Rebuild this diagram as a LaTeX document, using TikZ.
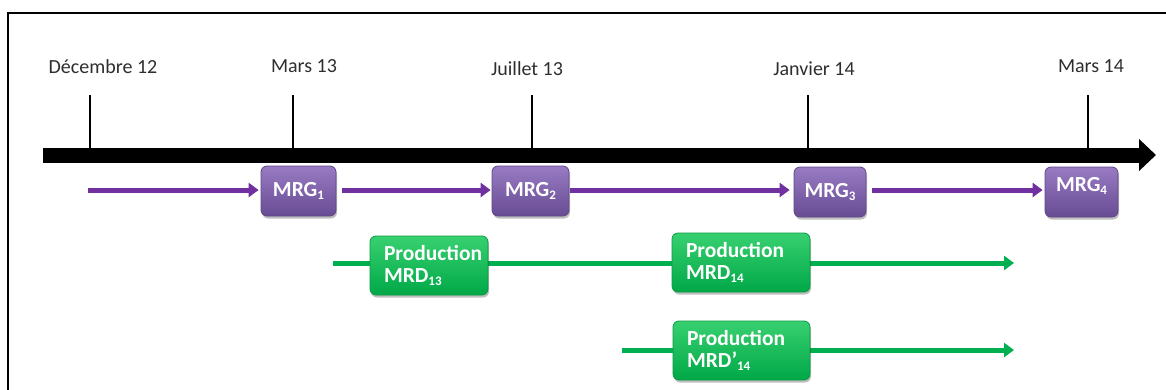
\documentclass[tikz,border=0pt]{standalone}
\usepackage{fontspec}
\setmainfont{Carlito}
\usetikzlibrary{arrows.meta,shadows}
\definecolor{purpleline}{HTML}{7030A0}
\definecolor{greenline}{HTML}{00B050}
\definecolor{labelgray}{HTML}{2E2E2E}
\definecolor{purtop}{HTML}{987BC2}
\definecolor{purbot}{HTML}{684C93}
\definecolor{purdraw}{HTML}{5F4688}
\definecolor{grntop}{HTML}{38D070}
\definecolor{grnbot}{HTML}{00A847}
\definecolor{grndraw}{HTML}{089A42}
\newcommand\lowsub[1]{\raisebox{-3pt}{\fontsize{13}{13}\selectfont #1}}
\begin{document}
\begin{tikzpicture}[x=1pt,y=-1pt,
  datelabel/.style={font=\fontsize{20}{24}\selectfont, text=labelgray, anchor=base, inner sep=0pt},
  tickline/.style={line width=2pt, black},
  axisline/.style={line width=15pt, black, -{Triangle[length=17pt,width=31pt]}},
  purarrow/.style={line width=5pt, purpleline, -{Triangle[length=10pt,width=14pt]}},
  grnarrow/.style={line width=5pt, greenline, -{Triangle[length=10pt,width=14pt]}},
  mrgbox/.style={rounded corners=6pt, top color=purtop, bottom color=purbot, draw=purdraw, line width=0.8pt,
    text=white, font=\bfseries\fontsize{21.5}{23}\selectfont, minimum height=50pt, inner sep=0pt,
    drop shadow={shadow xshift=1pt, shadow yshift=-2.5pt, opacity=0.25, fill=black}},
  mrdbox/.style={rounded corners=6pt, top color=grntop, bottom color=grnbot, draw=grndraw, line width=0.8pt,
    text=white, font=\bfseries\fontsize{21.5}{22.5}\selectfont, minimum height=59pt, inner xsep=14pt, inner ysep=0pt,
    align=left,
    drop shadow={shadow xshift=1pt, shadow yshift=-2.5pt, opacity=0.25, fill=black}},
]
\useasboundingbox (0,0) rectangle (1166,389);
% frame (top and left edges)
\coordinate (fbl) at (8,390);
\coordinate (ftl) at (8,13);
\coordinate (ftr) at (1167,13);
\draw[line width=1.5pt, black] (fbl) -- (ftl) -- (ftr);

% axis
\coordinate (axs) at (43,155);
\coordinate (axe) at (1156,155);
\draw[axisline] (axs) -- (axe);

% ticks
\foreach \n/\x in {1/90,2/293,3/532,4/808,5/1088}{
  \coordinate (tt\n) at (\x,95);
  \coordinate (tb\n) at (\x,150);
  \draw[tickline] (tt\n) -- (tb\n);
}

% date labels
\node[datelabel] (l1) at (103,73) {Décembre 12};
\node[datelabel] (l2) at (304,72) {Mars 13};
\node[datelabel] (l3) at (527,75) {Juillet 13};
\node[datelabel] (l4) at (814,75) {Janvier 14};
\node[datelabel] (l5) at (1091,72) {Mars 14};

% green lines (behind boxes)
\coordinate (gs1) at (333,263);
\coordinate (ge1) at (1014,263);
\coordinate (gs2) at (622,350);
\coordinate (ge2) at (1014,350);
\draw[grnarrow] (gs1) -- (ge1);
\draw[grnarrow] (gs2) -- (ge2);

% MRG boxes
\node[mrgbox, minimum width=75pt] (m1) at (298.5,191) {MRG\lowsub{1}};
\node[mrgbox, minimum width=77pt] (m2) at (530.5,191) {MRG\lowsub{2}};
\node[mrgbox, minimum width=72pt] (m3) at (830,192) {MRG\lowsub{3}};
\node[mrgbox, minimum width=73pt] (m4) at (1081.5,192) {\raisebox{6pt}[\height][\depth]{MRG\lowsub{4}}};

% purple arrows
\coordinate (p0) at (88,190);
\draw[purarrow, shorten >=2pt] (p0) -- (p0 -| m1.west);
\draw[purarrow, shorten <=6pt, shorten >=1pt] (m1.east |- p0) -- (m2.west |- p0);
\draw[purarrow, shorten <=1pt, shorten >=4pt] (m2.east |- p0) -- (m3.west |- p0);
\draw[purarrow, shorten <=6pt, shorten >=2pt] (m3.east |- p0) -- (m4.west |- p0);

% MRD boxes
\node[mrdbox, text width=90pt] (d13) at (429,265.5) {\mbox{Production}\\MRD\lowsub{13}};
\node[mrdbox, text width=110pt] (d14) at (741,262.5) {\mbox{Production}\\MRD\lowsub{14}};
\node[mrdbox, text width=109pt] (d14b) at (741.5,350.5) {\mbox{Production}\\MRD’\lowsub{14}};
\end{tikzpicture}
\end{document}
